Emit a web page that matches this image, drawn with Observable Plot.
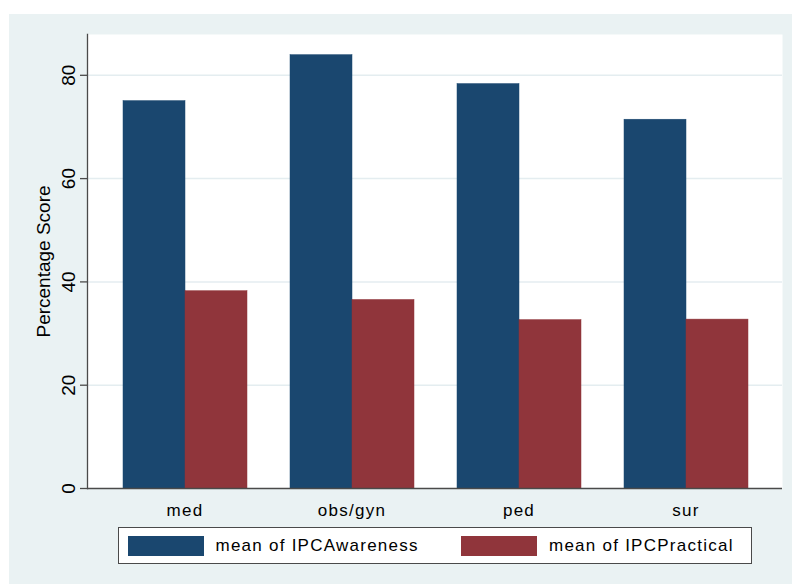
<!DOCTYPE html>
<html>
<head>
<meta charset="utf-8">
<script src="https://cdn.jsdelivr.net/npm/d3@7"></script>
<script src="https://cdn.jsdelivr.net/npm/@observablehq/plot@0.6"></script>
<style>
  html, body { margin: 0; padding: 0; background: #ffffff; }
  #wrap { position: relative; width: 792px; height: 584px; background: #ffffff; font-family: "Liberation Sans", Arial, sans-serif; }
  #bg { position: absolute; left: 9px; top: 14px; width: 783px; height: 570px; background: #eaf2f3; }
  .layer { position: absolute; left: 0; top: 0; }
  .layer svg { display: block; }
  #legend { position: absolute; left: 118px; top: 527px; width: 632px; height: 35px; background: #ffffff; border: 1.5px solid #4a4a4a; }
  .item { position: absolute; top: 0; height: 35px; display: flex; align-items: center; }
  .sw { width: 76px; height: 20px; margin-right: 12px; }
  .lab { font-size: 17px; letter-spacing: 1.25px; color: #000; white-space: nowrap; }
</style>
</head>
<body>
<div id="wrap">
  <div id="bg"></div>
  <div id="layer1" class="layer"></div>
  <div id="layer2" class="layer"></div>
  <div id="layer3" class="layer"></div>
  <div id="legend"></div>
</div>
<script>
const categories = ["med", "obs/gyn", "ped", "sur"];
const awareness = [75.0, 83.9, 78.3, 71.4];
const practical = [38.2, 36.5, 32.6, 32.7];
const seriesNames = ["mean of IPCAwareness", "mean of IPCPractical"];
const seriesColors = ["#1a476f", "#90353b"];
const yTicks = [0, 20, 40, 60, 80];
const yLabel = "Percentage Score";

const data = categories.flatMap((c, i) => [
  {cat: c, series: seriesNames[0], value: awareness[i]},
  {cat: c, series: seriesNames[1], value: practical[i]}
]);

const common = {
  width: 792,
  height: 584,
  marginLeft: 87,
  marginRight: 10,
  marginTop: 34,
  marginBottom: 96,
  style: {background: "transparent", fontFamily: "'Liberation Sans', Arial, sans-serif", color: "#000", overflow: "visible"},
  y: {domain: [0, 87.9], axis: null}
};

// Layer 1: white plot region and horizontal grid lines
const back = Plot.plot({
  ...common,
  marks: [
    Plot.frame({fill: "white", stroke: null}),
    Plot.gridY(yTicks.filter(d => d > 0), {stroke: "#e4edf0", strokeOpacity: 1, strokeWidth: 1.5})
  ]
});

// Layer 2: grouped bars (faceted by category) and category labels
const bars = Plot.plot({
  ...common,
  fx: {domain: categories, paddingInner: 0.2525, paddingOuter: 0.196, align: 0.5, label: null},
  x: {domain: seriesNames, padding: 0, axis: null},
  color: {domain: seriesNames, range: seriesColors},
  marks: [
    Plot.barY(data, {fx: "cat", x: "series", y: "value", fill: "series", stroke: "series", strokeWidth: 0.5, inset: 0}),
    Plot.axisFx({anchor: "bottom", tickSize: 0, tickPadding: 15, fontSize: 17, label: null})
  ]
});

// Layer 3: axes lines, y ticks and y title
const axes = Plot.plot({
  ...common,
  y: {domain: [0, 87.9]},
  marks: [
    Plot.axisY(yTicks, {
      tickSize: 7, tickPadding: 6, tickRotate: -90, fontSize: 19,
      stroke: "#4a4a4a", strokeWidth: 1.3,
      label: yLabel, labelAnchor: "center", labelArrow: "none", labelOffset: 51
    }),
    Plot.frame({anchor: "left", stroke: "#4a4a4a", strokeWidth: 1.3}),
    Plot.ruleY([0], {stroke: "#4a4a4a", strokeWidth: 1.3})
  ]
});

document.getElementById("layer1").appendChild(back);
document.getElementById("layer2").appendChild(bars);
document.getElementById("layer3").appendChild(axes);
d3.select(bars).selectAll('g[aria-label="fx-axis tick label"] text').style("letter-spacing", "1.25px");

// legend
const legend = document.getElementById("legend");
const legendX = [8.5, 342];
seriesNames.forEach((name, i) => {
  const item = document.createElement("div");
  item.className = "item";
  item.style.left = legendX[i] + "px";
  const sw = document.createElement("div");
  sw.className = "sw";
  sw.style.background = seriesColors[i];
  const lab = document.createElement("span");
  lab.className = "lab";
  lab.textContent = name;
  item.appendChild(sw);
  item.appendChild(lab);
  legend.appendChild(item);
});
</script>
</body>
</html>
